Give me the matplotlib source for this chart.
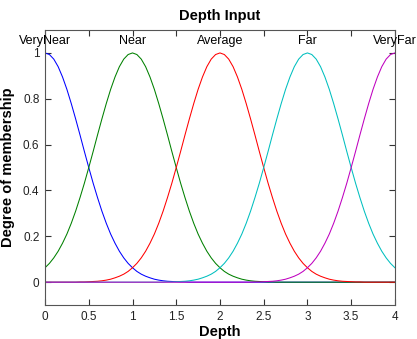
import matplotlib
matplotlib.use("Agg")
import matplotlib.pyplot as plt

# x samples of the input variable "Depth" (0 to 4, step 0.05)
depth = [round(0.05 * i, 2) for i in range(81)]

mf_names = ["VeryNear", "Near", "Average", "Far", "VeryFar"]
mf_centers = [0, 1, 2, 3, 4]

very_near = [1.000, 0.993, 0.973, 0.940, 0.895, 0.841, 0.779, 0.712, 0.642, 0.570,
             0.500, 0.432, 0.369, 0.310, 0.257, 0.210, 0.170, 0.135, 0.106, 0.082,
             0.063, 0.047, 0.035, 0.026, 0.019, 0.013, 0.009, 0.006, 0.004, 0.003,
             0.002, 0.001, 0.001,
             0, 0, 0, 0, 0, 0, 0, 0, 0, 0,
             0, 0, 0, 0, 0, 0, 0, 0, 0, 0,
             0, 0, 0, 0, 0, 0, 0, 0, 0, 0,
             0, 0, 0, 0, 0, 0, 0, 0, 0, 0,
             0, 0, 0, 0, 0, 0, 0, 0]
near = [0.063, 0.082, 0.106, 0.135, 0.170, 0.210, 0.257, 0.310, 0.369, 0.432,
        0.500, 0.570, 0.642, 0.712, 0.779, 0.841, 0.895, 0.940, 0.973, 0.993,
        1.000,
        0.993, 0.973, 0.940, 0.895, 0.841, 0.779, 0.712, 0.642, 0.570, 0.500,
        0.432, 0.369, 0.310, 0.257, 0.210, 0.170, 0.135, 0.106, 0.082, 0.063,
        0.047, 0.035, 0.026, 0.019, 0.013, 0.009, 0.006, 0.004, 0.003, 0.002,
        0.001, 0.001,
        0, 0, 0, 0, 0, 0, 0, 0, 0, 0,
        0, 0, 0, 0, 0, 0, 0, 0, 0, 0,
        0, 0, 0, 0, 0, 0, 0, 0]
average = [0, 0, 0, 0, 0, 0, 0, 0,
           0.001, 0.001, 0.002, 0.003, 0.004, 0.006, 0.009, 0.013, 0.019, 0.026,
           0.035, 0.047, 0.063, 0.082, 0.106, 0.135, 0.170, 0.210, 0.257, 0.310,
           0.369, 0.432, 0.500, 0.570, 0.642, 0.712, 0.779, 0.841, 0.895, 0.940,
           0.973, 0.993, 1.000,
           0.993, 0.973, 0.940, 0.895, 0.841, 0.779, 0.712, 0.642, 0.570, 0.500,
           0.432, 0.369, 0.310, 0.257, 0.210, 0.170, 0.135, 0.106, 0.082, 0.063,
           0.047, 0.035, 0.026, 0.019, 0.013, 0.009, 0.006, 0.004, 0.003, 0.002,
           0.001, 0.001,
           0, 0, 0, 0, 0, 0, 0, 0]
far = [0, 0, 0, 0, 0, 0, 0, 0, 0, 0,
       0, 0, 0, 0, 0, 0, 0, 0, 0, 0,
       0, 0, 0, 0, 0, 0, 0, 0,
       0.001, 0.001, 0.002, 0.003, 0.004, 0.006, 0.009, 0.013, 0.019, 0.026,
       0.035, 0.047, 0.063, 0.082, 0.106, 0.135, 0.170, 0.210, 0.257, 0.310,
       0.369, 0.432, 0.500, 0.570, 0.642, 0.712, 0.779, 0.841, 0.895, 0.940,
       0.973, 0.993, 1.000,
       0.993, 0.973, 0.940, 0.895, 0.841, 0.779, 0.712, 0.642, 0.570, 0.500,
       0.432, 0.369, 0.310, 0.257, 0.210, 0.170, 0.135, 0.106, 0.082, 0.063]
very_far = [0, 0, 0, 0, 0, 0, 0, 0, 0, 0,
            0, 0, 0, 0, 0, 0, 0, 0, 0, 0,
            0, 0, 0, 0, 0, 0, 0, 0, 0, 0,
            0, 0, 0, 0, 0, 0, 0, 0, 0, 0,
            0, 0, 0, 0, 0, 0, 0, 0,
            0.001, 0.001, 0.002, 0.003, 0.004, 0.006, 0.009, 0.013, 0.019, 0.026,
            0.035, 0.047, 0.063, 0.082, 0.106, 0.135, 0.170, 0.210, 0.257, 0.310,
            0.369, 0.432, 0.500, 0.570, 0.642, 0.712, 0.779, 0.841, 0.895, 0.940,
            0.973, 0.993, 1.000]

x_ticks = [0, 0.5, 1, 1.5, 2, 2.5, 3, 3.5, 4]
x_tick_labels = ["0", "0.5", "1", "1.5", "2", "2.5", "3", "3.5", "4"]
y_ticks = [0, 0.2, 0.4, 0.6, 0.8, 1]
y_tick_labels = ["0", "0.2", "0.4", "0.6", "0.8", "1"]

series = [very_near, near, average, far, very_far]
for s in series:
    assert len(s) == len(depth), len(s)
colors = ["#0000ff", "#008000", "#ff0000", "#00bfbf", "#bf00bf"]

plt.rcParams["font.family"] = ["Liberation Sans", "DejaVu Sans"]

fig = plt.figure(figsize=(4.17, 3.39), dpi=100)
ax = fig.add_axes([0.108, 0.100, 0.839, 0.8115])

for vals, c in zip(series, colors):
    ax.plot(depth, vals, color=c, lw=0.75)

for name, cx in zip(mf_names, mf_centers):
    ax.text(cx, 1.05, name, ha="center", va="center", fontsize=9, clip_on=False)

ax.set_xlim(0, 4)
ax.set_ylim(-0.1, 1.1)
ax.set_xticks(x_ticks)
ax.set_xticklabels(x_tick_labels)
ax.set_yticks(y_ticks)
ax.set_yticklabels(y_tick_labels)
ax.tick_params(direction="in", top=True, right=True, length=4, width=0.8,
               labelsize=8.5, pad=4, colors="#333333", labelcolor="#222222")
for s in ax.spines.values():
    s.set_linewidth(0.8)
    s.set_color("#555555")

ax.set_title("Depth Input", fontsize=10.5, fontweight="bold", pad=7)
ax.set_xlabel("Depth", fontsize=10.5, fontweight="bold", labelpad=2)
ax.set_ylabel("Degree of membership", fontsize=10.5, fontweight="bold", labelpad=6)

fig.savefig("out.png", dpi=100, facecolor="white")
